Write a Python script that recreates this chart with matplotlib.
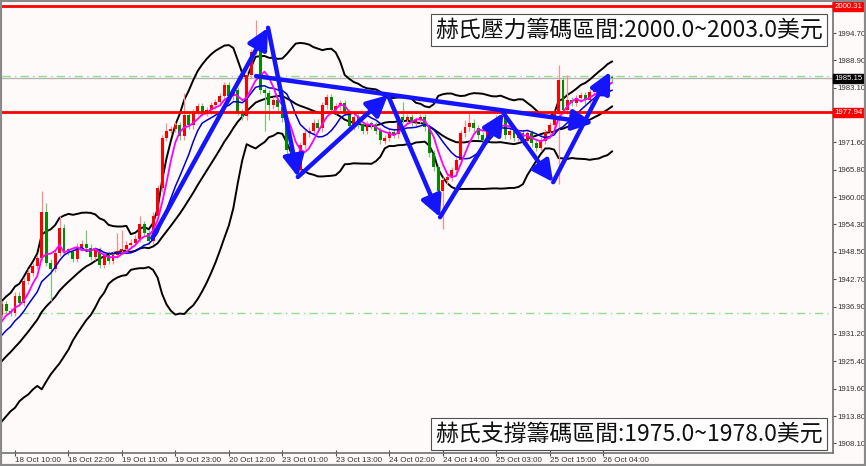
import numpy as np
import pandas as pd
import matplotlib
matplotlib.use("Agg")
import matplotlib.pyplot as plt
from matplotlib.patches import Rectangle
from matplotlib.transforms import blended_transform_factory

plt.rcParams['font.family'] = ['Noto Sans CJK TC', 'DejaVu Sans']

# hourly gold closes before the visible window (only feed the indicators)
warmup = [1916.2, 1915.4, 1917.0, 1918.3, 1917.6, 1919.4, 1921.0, 1920.3, 1922.5, 1924.1,
          1923.2, 1925.6, 1927.4, 1926.8, 1929.1, 1930.5, 1929.7, 1932.4, 1934.0, 1935.2]

# visible closes, bar -3 .. 134 (bar 0 = 18 Oct 10:00)
first_bar = -3
closes = [
    1937.5, 1936.0, 1935.6,
    1939.2, 1937.7, 1942.4, 1944.1, 1945.5, 1947.2, 1956.8, 1946.2, 1944.9, 1948.3,
    1953.6, 1948.7, 1948.5, 1947.0, 1949.6, 1950.2, 1949.4, 1947.5, 1948.9, 1945.7,
    1947.9, 1946.6, 1947.9, 1948.7, 1949.1, 1950.0, 1950.4, 1951.3, 1954.4, 1952.5,
    1950.8, 1956.1, 1961.9, 1972.5, 1974.1, 1974.4, 1975.2, 1972.9, 1977.3, 1975.2,
    1978.0, 1979.2, 1977.8, 1978.4, 1979.4, 1980.1, 1981.3, 1983.7, 1981.3, 1982.6,
    1978.0, 1977.1, 1985.8, 1990.7, 1991.7, 1982.6, 1982.0, 1979.4, 1980.5, 1979.0,
    1976.7, 1969.9, 1967.4, 1965.7, 1971.0, 1973.5, 1974.1, 1975.8, 1974.6, 1979.4,
    1981.1, 1978.4, 1979.2, 1979.9, 1978.0, 1975.0, 1976.9, 1975.4, 1974.1, 1975.4,
    1975.2, 1974.1, 1972.0, 1972.5, 1973.7, 1973.3, 1977.0, 1976.3, 1977.0, 1975.8,
    1976.3, 1976.9, 1974.8, 1969.3, 1966.3, 1961.4, 1963.6, 1964.2, 1965.7, 1967.8,
    1973.5, 1974.8, 1975.8, 1974.6, 1973.1, 1972.0, 1975.2, 1974.1, 1976.7, 1976.9,
    1973.1, 1974.1, 1972.5, 1973.5, 1971.8, 1973.5, 1971.4, 1970.5, 1972.0, 1973.7,
    1975.2, 1977.7, 1984.7, 1978.4, 1980.5, 1979.9, 1980.9, 1981.6, 1980.5, 1982.2,
    1983.1, 1983.5, 1984.1, 1985.2, 1985.15,
]

# long wicks (bar -> price)
long_highs = {6: 1961.4, 7: 1958.7, 10: 1956.1, 16: 1953.0, 23: 1952.4, 24: 1953.0,
              28: 1956.1, 34: 1975.8, 38: 1982.0, 54: 1997.5, 87: 1980.1, 101: 1976.3,
              102: 1977.8, 122: 1987.9, 123: 1985.4, 124: 1985.8}
long_lows = {8: 1938.1, 56: 1974.1, 57: 1976.3, 63: 1964.0, 96: 1953.4, 122: 1962.9}

time_labels = ["18 Oct 10:00", "18 Oct 22:00", "19 Oct 11:00", "19 Oct 23:00",
               "20 Oct 12:00", "23 Oct 01:00", "23 Oct 13:00", "24 Oct 02:00",
               "24 Oct 14:00", "25 Oct 03:00", "25 Oct 15:00", "26 Oct 04:00"]
label_bars = [0, 12, 24, 36, 48, 60, 72, 84, 96, 108, 120, 132]

# 1977.40 sits under the support tag on the scale, so only its tick shows
price_ticks = [1908.10, 1913.80, 1919.60, 1925.40, 1931.20, 1936.90, 1942.70, 1948.50,
               1954.30, 1960.00, 1965.80, 1971.60, 1977.40, 1983.10, 1988.90, 1994.70]
hidden_tick = 1977.40

resist_level = 2000.31
support_level = 1977.94
bid_price = 1985.15
green_levels = [1985.6, 1935.55]

# harmonic pattern legs drawn by hand (bar, price)
zig_bars = [30.8, 56.8, 63.5, 83.7, 95.4, 109.6, 120.8, 133.6]
zig_prices = [1951.4, 1995.8, 1964.3, 1981.6, 1955.8, 1977.8, 1963.2, 1986.5]
trend_bars = [54.1, 129.8]
trend_prices = [1985.6, 1975.7]

top_note = "赫氏壓力籌碼區間:2000.0~2003.0美元"
bottom_note = "赫氏支撐籌碼區間:1975.0~1978.0美元"

# ---------------------------------------------------------------
all_close = pd.Series(warmup + closes)
sma5 = all_close.rolling(5).mean()
sma10 = all_close.rolling(10).mean()
mid = all_close.rolling(20).mean()
std = all_close.rolling(20).std(ddof=0)
upper = mid + 2 * std
lower = mid - 2 * std

n_warm = len(warmup)
bars = np.arange(first_bar, first_bar + len(closes))
opens = all_close.shift(1).values[n_warm:]
c = np.array(closes)

bg = '#fffafa'
fig = plt.figure(figsize=(8.66, 4.66), dpi=100, facecolor=bg)
ax = fig.add_axes([2 / 866, 13 / 466, 831 / 866, 450 / 466], facecolor=bg)

# indicator lines
vis = slice(n_warm, None)
for s in (upper, mid, lower):
    ax.plot(bars, s.values[vis], color='black', lw=1.4, zorder=2)
ax.plot(bars, sma10.values[vis], color='#0000cc', lw=1.1, zorder=3)
ax.plot(bars, sma5.values[vis], color='#ff00ff', lw=1.3, zorder=4)

# candles
for k, b in enumerate(bars):
    o, cl = opens[k], c[k]
    up = cl >= o
    hi = long_highs.get(b, max(o, cl) + 0.7)
    lo = long_lows.get(b, min(o, cl) - 0.7)
    body_col = '#ff0000' if up else '#008a00'
    wick_col = '#ff8c8c' if up else '#7cc47c'
    ax.vlines(b, lo, hi, color=wick_col, lw=0.9, zorder=2.5)
    h = cl - o if abs(cl - o) > 0.3 else 0.3
    ax.bar(b, h, bottom=o, width=0.66, color=body_col, lw=0, zorder=2.6)

# horizontal levels
ax.axhline(resist_level, color='#ff0000', lw=2.0, zorder=5)
ax.axhline(support_level, color='#ff0000', lw=2.0, zorder=5)
ax.axhline(bid_price, color='#b4b4b4', lw=1.0, zorder=1)
for g in green_levels:
    ax.axhline(g, color='#8fdf8f', lw=1.0, ls=(0, (6, 3, 1, 3)), zorder=1)

# pattern arrows
blue = '#1414ff'
style = dict(arrowstyle='-|>,head_length=0.9,head_width=0.45', color=blue, lw=3.2,
             shrinkA=0, shrinkB=0, mutation_scale=14)
for k in range(len(zig_bars) - 1):
    ax.annotate('', xy=(zig_bars[k + 1], zig_prices[k + 1]),
                xytext=(zig_bars[k], zig_prices[k]), arrowprops=style, zorder=6)
ax.annotate('', xy=(trend_bars[1], trend_prices[1]), xytext=(trend_bars[0], trend_prices[0]),
            arrowprops=style, zorder=6)

# axes limits and ticks
ax.set_xlim(-2.92, 183.6)
ax.set_ylim(1906.0, 2001.04)
for side in ('top', 'left'):
    ax.spines[side].set_visible(False)
for side in ('right', 'bottom'):
    ax.spines[side].set_color('#707070')
    ax.spines[side].set_linewidth(1.2)

small = ['Liberation Sans Narrow', 'Liberation Sans', 'DejaVu Sans']
ax.yaxis.tick_right()
ax.set_yticks(price_ticks)
ax.set_yticklabels(['' if t == hidden_tick else '%.2f' % t for t in price_ticks],
                   family=small, fontsize=5.6, color='#303030')
ax.set_xticks(label_bars)
ax.set_xticklabels(time_labels, family=small, fontsize=5.8, color='#303030', ha='left')
ax.tick_params(axis='y', length=2.5, width=0.8, color='#505050', pad=0.8)
ax.tick_params(axis='x', length=4, width=0.8, color='#505050', pad=1, direction='inout')
for lab in ax.get_xticklabels():
    lab.set_x(lab.get_position()[0])

# price tags on the scale
tr = blended_transform_factory(ax.transAxes, ax.transData)
for val, col in ((resist_level, '#ff0000'), (support_level, '#ff0000'), (bid_price, '#000000')):
    ax.text(1.0015, val, '%.2f' % val, transform=tr, va='center', ha='left', family=small,
            fontsize=5.6, color='white', zorder=10, clip_on=False,
            bbox=dict(boxstyle='square,pad=0.15', fc=col, ec=col))

# notes
box = dict(boxstyle='square,pad=0.2', fc='white', ec='#505050', lw=0.8)
ax.text(0.7545, 0.94, top_note, transform=ax.transAxes, ha='center', va='center',
        fontsize=16.5, color='#111111', bbox=box, zorder=9)
ax.text(0.7545, 0.042, bottom_note, transform=ax.transAxes, ha='center', va='center',
        fontsize=16.5, color='#111111', bbox=box, zorder=9)

fig.patches.append(Rectangle((0, 0), 1, 1, transform=fig.transFigure, fill=False,
                             ec='#8a8a8a', lw=3))

plt.savefig("out.png", dpi=100, facecolor=bg)
